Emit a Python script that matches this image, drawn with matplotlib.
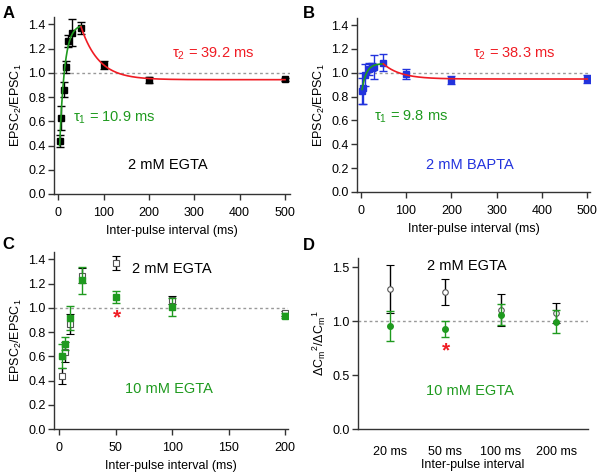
import numpy as np
import matplotlib
matplotlib.use("Agg")
import matplotlib.pyplot as plt

plt.rcParams['font.family'] = ['Liberation Sans', 'DejaVu Sans']
plt.rcParams['mathtext.fontset'] = 'custom'
plt.rcParams['mathtext.rm'] = 'Liberation Sans'
plt.rcParams['mathtext.it'] = 'Liberation Sans'
plt.rcParams['mathtext.default'] = 'regular'

# panel A: 2 mM EGTA
a_x = [4, 7, 12, 17, 22, 30, 50, 100, 200, 500]
a_y = [0.44, 0.63, 0.86, 1.05, 1.26, 1.33, 1.37, 1.065, 0.94, 0.945]
a_err = [0.05, 0.10, 0.06, 0.05, 0.05, 0.11, 0.05, 0.035, 0.025, 0.015]
# fit parameters (rise / decay)
a_rise = dict(tau=10.9, c=1.398, a=1.315, x0=3, x1=50)
a_decay = dict(tau=39.2, base=0.943, amp=0.437, x0=50, x1=500)

# panel B: 2 mM BAPTA
b_x = [3, 5, 10, 18, 24, 30, 50, 100, 200, 500]
b_y = [0.85, 0.87, 0.98, 1.035, 1.05, 1.05, 1.085, 0.99, 0.94, 0.95]
b_err = [0.11, 0.13, 0.09, 0.05, 0.035, 0.10, 0.07, 0.045, 0.03, 0.035]
b_rise = dict(tau=9.8, c=1.077, a=0.294, x0=3, x1=50)
b_decay = dict(tau=38.3, base=0.948, amp=0.127, x0=50, x1=500)

# panel C: 2 mM vs 10 mM EGTA
c_x = [3, 5, 10, 20, 50, 100, 200]
c_egta2 = [0.44, 0.635, 0.865, 1.265, 1.37, 1.065, 0.955]
c_egta2_err = [0.065, 0.085, 0.085, 0.06, 0.055, 0.035, 0.02]
c_egta10 = [0.60, 0.705, 0.915, 1.225, 1.09, 1.005, 0.935]
c_egta10_err = [0.10, 0.05, 0.10, 0.115, 0.05, 0.075, 0.02]

# panel D: capacitance ratio
d_labels = ['20 ms', '50 ms', '100 ms', '200 ms']
d_egta2 = [1.30, 1.27, 1.105, 1.075]
d_egta2_err = [0.22, 0.12, 0.15, 0.09]
d_egta10 = [0.955, 0.93, 1.06, 0.995]
d_egta10_err = [0.14, 0.075, 0.10, 0.105]

GREEN = '#1f9a1f'
RED = '#f01c24'
BLUE = '#2233dd'
AXC = '#333333'

fig = plt.figure(figsize=(6.01, 4.74), dpi=100)
W, H = 601, 474


def add_ax(l, t, r, b):
    return fig.add_axes([l / W, 1 - b / H, (r - l) / W, (b - t) / H])


def style(ax):
    for s in ['top', 'right']:
        ax.spines[s].set_visible(False)
    for s in ['left', 'bottom']:
        ax.spines[s].set_color(AXC)
        ax.spines[s].set_linewidth(1.0)
    ax.tick_params(direction='out', length=4, width=1, color=AXC, labelsize=9, pad=2)
    ax.tick_params(axis='x', pad=5.5)
    ax.axhline(1.0, color='#999999', lw=1, ls=(0, (2, 2)), zorder=0)


def ratio_axis(ax):
    ax.set_ylim(0, 1.46)
    ax.set_yticks(np.arange(0, 1.41, 0.2))
    ax.set_yticklabels([f'{v:.1f}' for v in np.arange(0, 1.41, 0.2)])
    ax.set_ylabel('EPSC$_2$/EPSC$_1$', fontsize=9, labelpad=3)
    ax.set_xlabel('Inter-pulse interval (ms)', fontsize=9, labelpad=4)


def fit_curves(ax, rise, decay):
    xr = np.linspace(rise['x0'], rise['x1'], 200)
    ax.plot(xr, rise['c'] - rise['a'] * np.exp(-xr / rise['tau']), color=GREEN, lw=1.2, zorder=4)
    xd = np.linspace(decay['x0'], decay['x1'], 400)
    ax.plot(xd, decay['base'] + decay['amp'] * np.exp(-(xd - decay['x0']) / decay['tau']),
            color=RED, lw=1.2, zorder=4)


eb = dict(capsize=3, elinewidth=1, capthick=1, markersize=4, lw=0)

# ---- A ----
ax = add_ax(54, 17, 290, 194)
style(ax)
ax.errorbar(a_x, a_y, yerr=a_err, fmt='s', color='black', **eb, zorder=3)
fit_curves(ax, a_rise, a_decay)
ax.set_xlim(-9.5, 511)
ax.set_xticks([0, 100, 200, 300, 400, 500])
ratio_axis(ax)
ax.text(251, 1.16, 'τ$_2$ = 39.2 ms', color=RED, fontsize=10.5, va='center')
ax.text(32, 0.63, 'τ$_1$ = 10.9 ms', color=GREEN, fontsize=10.5, va='center')
ax.text(242, 0.24, '2 mM EGTA', color='black', fontsize=10.5, ha='center', va='center')

# ---- B ----
ax = add_ax(357, 18, 590, 192)
style(ax)
ax.errorbar(b_x, b_y, yerr=b_err, fmt='s', color=BLUE, **eb, zorder=3)
fit_curves(ax, b_rise, b_decay)
ax.set_xlim(-8.2, 506)
ax.set_xticks([0, 100, 200, 300, 400, 500])
ratio_axis(ax)
ax.text(247, 1.157, 'τ$_2$ = 38.3 ms', color=RED, fontsize=10.5, va='center')
ax.text(29, 0.628, 'τ$_1$ = 9.8 ms', color=GREEN, fontsize=10.5, va='center')
ax.text(240, 0.224, '2 mM BAPTA', color=BLUE, fontsize=10.5, ha='center', va='center')

# ---- C ----
ax = add_ax(54, 252, 288, 429)
style(ax)
ax.errorbar(c_x, c_egta2, yerr=c_egta2_err, fmt='s', color='black', mfc='white',
            mec='#555555', mew=0.8, **eb, zorder=3)
ax.errorbar(c_x, c_egta10, yerr=c_egta10_err, fmt='s', color=GREEN, **eb, zorder=4)
ax.set_xlim(-4.4, 202.5)
ax.set_xticks([0, 50, 100, 150, 200])
ratio_axis(ax)
ax.text(100, 1.32, '2 mM EGTA', color='black', fontsize=10.5, ha='center', va='center')
ax.text(97, 0.33, '10 mM EGTA', color=GREEN, fontsize=10.5, ha='center', va='center')
ax.text(51, 0.92, '*', color=RED, fontsize=15, ha='center', va='center', fontweight='bold')

# ---- D ----
ax = add_ax(358, 258, 588, 429)
style(ax)
pos = np.arange(len(d_labels))
ax.errorbar(pos, d_egta2, yerr=d_egta2_err, fmt='o', color='black', mfc='white',
            mec='#555555', mew=0.8, **eb, zorder=3)
ax.errorbar(pos, d_egta10, yerr=d_egta10_err, fmt='o', color=GREEN, **eb, zorder=4)
ax.set_xlim(-0.57, 3.57)
ax.set_xticks(pos)
ax.set_xticklabels(d_labels)
ax.tick_params(axis='x', length=0, pad=12)
ax.set_ylim(0, 1.586)
ax.set_yticks([0, 0.5, 1.0, 1.5])
ax.set_yticklabels(['0.0', '0.5', '1.0', '1.5'])
ax.set_ylabel(r'$\Delta C_m{}^{2}/\Delta C_m{}^{1}$', fontsize=9, labelpad=3)
ax.set_xlabel('Inter-pulse interval', fontsize=9, labelpad=1)
ax.text(1.385, 1.51, '2 mM EGTA', color='black', fontsize=10.5, ha='center', va='center')
ax.text(1.44, 0.35, '10 mM EGTA', color=GREEN, fontsize=10.5, ha='center', va='center')
ax.text(1.02, 0.72, '*', color=RED, fontsize=15, ha='center', va='center', fontweight='bold')

for lab, x, y in [('A', 9, 14), ('B', 309, 14), ('C', 8, 244), ('D', 309, 245)]:
    fig.text(x / W, 1 - y / H, lab, fontsize=12, fontweight='bold', ha='center', va='center')

fig.savefig('out.png', dpi=100)
